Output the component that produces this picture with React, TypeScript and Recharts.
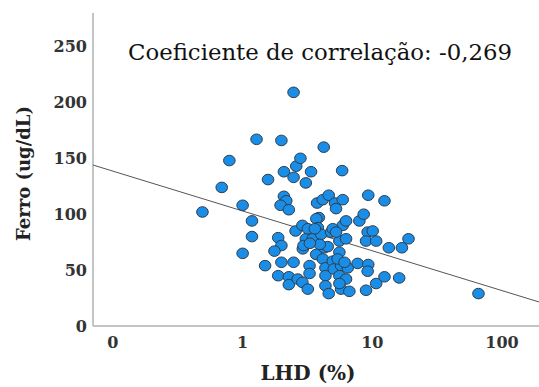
import * as React from "react";
import { ScatterChart, Scatter, XAxis, YAxis, ZAxis } from "recharts";

const lhd = [
  0.49, 0.69, 0.79, 1.0, 1.0, 1.18, 1.18, 1.28, 1.49, 1.57, 1.99, 2.08, 2.08, 2.17, 1.96, 2.27,
  1.88, 1.99, 1.76, 1.99, 1.88, 2.27, 2.27, 2.47, 2.47, 2.59, 2.79, 3.37, 3.07, 4.22, 2.47, 2.56,
  2.89, 2.66, 2.89, 3.18, 3.28, 3.28, 2.91, 3.07, 3.47, 3.18, 3.69, 3.75, 3.87, 3.7, 3.8, 4.15,
  4.61, 4.03, 4.27, 4.15, 4.53, 4.81, 4.35, 4.35, 4.35, 4.61, 4.95, 5.04, 5.16, 5.25, 5.91, 5.85,
  5.57, 5.57, 5.91, 6.27, 6.27, 5.74, 5.57, 6.27, 5.74, 6.65, 6.46, 7.7, 7.94, 8.58, 9.2, 8.94,
  10.06, 10.7, 9.3, 12.4, 9.3, 9.2, 8.94, 10.7, 12.4, 13.4, 16.1, 16.9, 19.0, 65.8, 4.95, 5.25,
  5.4, 6.1, 5.57, 3.93, 3.6, 2.95, 3.3,
];
const ferro = [
  102, 124, 148, 108, 65, 94, 80, 167, 54, 131, 166, 138, 116, 112, 108, 104,
  79, 72, 67, 57, 45, 44, 37, 209, 133, 143, 150, 138, 128, 160, 57, 85,
  90, 42, 39, 33, 54, 47, 69, 78, 78, 87, 64, 110, 97, 96, 88, 113,
  117, 82, 70, 60, 71, 84, 52, 45, 36, 29, 58, 51, 110, 105, 113, 139,
  76, 66, 90, 94, 78, 54, 45, 42, 33, 31, 52, 56, 94, 100, 84, 76,
  85, 76, 117, 112, 55, 49, 32, 38, 44, 70, 43, 70, 78, 29, 87, 84,
  60, 57, 38, 73, 87, 72, 74,
];

// fitted line (ends of the x range)
const fitX = [0.0702, 192.7];
const fitY = [144, 21.5];

const xTicks = [0.1, 1, 10, 100];
const yTicks = [0, 50, 100, 150, 200, 250];

const points = lhd.map((x, i) => ({ x, y: ferro[i] }));
const fit = fitX.map((x, i) => ({ x, y: fitY[i] }));

const serif = "'DejaVu Serif', serif";

const Dot = (p: any) => (
  <ellipse cx={p.cx} cy={p.cy} rx={5.8} ry={5.3} fill="#1a8de6" stroke="#2e3d4d" strokeWidth={1} />
);

const YLabel = (p: any) => {
  const vb = p.viewBox || {};
  const x = (vb.x ?? 0) + (vb.width ?? 93) - 70;
  const y = (vb.y ?? 13) + (vb.height ?? 313) / 2 + 4;
  return (
    <text x={x} y={y} transform={`rotate(-90 ${x} ${y})`} textAnchor="middle" dominantBaseline="central"
      fontFamily={serif} fontWeight="bold" fontSize={18} fill="#222">
      Ferro (ug/dL)
    </text>
  );
};

const XLabel = (p: any) => {
  const vb = p.viewBox;
  return (
    <text x={vb.x + vb.width / 2 - 8} y={vb.y + 47} textAnchor="middle" dominantBaseline="central"
      fontFamily={serif} fontWeight="bold" fontSize={20} fill="#222">
      LHD (%)
    </text>
  );
};

export default function App() {
  return (
    <div style={{ position: "absolute", left: 0, top: 0, width: 539, height: 387, background: "#fff" }}>
      <ScatterChart width={539} height={387} margin={{ top: 13, right: 0, bottom: 0, left: 0 }}>
        <XAxis
          dataKey="x"
          type="number"
          scale="log"
          domain={[0.0702, 192.7]}
          allowDataOverflow
          ticks={xTicks}
          tickFormatter={(v) => (v < 1 ? "0" : String(v))}
          tickLine={false}
          tickSize={0}
          tickMargin={11}
          height={61}
          axisLine={{ stroke: "#c4c4c4", strokeWidth: 2 }}
          tick={{ fontFamily: serif, fontWeight: "bold", fontSize: 16, fill: "#333" }}
          label={<XLabel />}
        />
        <YAxis
          dataKey="y"
          type="number"
          domain={[0, 280]}
          ticks={yTicks}
          tickLine={false}
          tickSize={0}
          tickMargin={6}
          width={93}
          axisLine={{ stroke: "#c4c4c4", strokeWidth: 2 }}
          tick={{ fontFamily: serif, fontWeight: "bold", fontSize: 16, fill: "#333" }}
          label={<YLabel />}
        />
        <ZAxis range={[90, 90]} />
        <Scatter data={fit} line={{ stroke: "#555", strokeWidth: 1 }} shape={() => null} isAnimationActive={false} />
        <Scatter data={points} shape={<Dot />} isAnimationActive={false} />
      </ScatterChart>
      <svg width={539} height={80} style={{ position: "absolute", left: 0, top: 0, pointerEvents: "none" }}>
        <text x={128} y={60} textLength={384} lengthAdjust="spacingAndGlyphs"
          fontFamily="'DejaVu Serif', serif" fontSize={22} fill="#111">
          Coeficiente de correlação: -0,269
        </text>
      </svg>
    </div>
  );
}
